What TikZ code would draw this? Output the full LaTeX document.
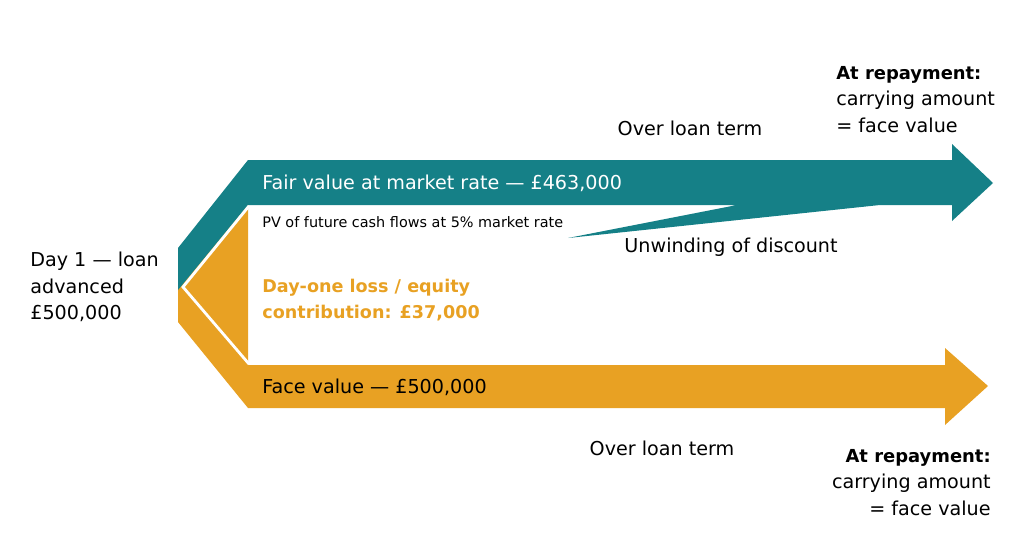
\documentclass[tikz,border=0pt]{standalone}
\usepackage{fontspec}
\setmainfont{DejaVu Sans}
\definecolor{fairteal}{RGB}{21,128,135}
\definecolor{faceorange}{RGB}{232,161,35}
\newcommand{\bhead}[1]{{\fontsize{10.2}{15}\selectfont\bfseries #1}}
\tikzset{
  lbl/.style={inner sep=0pt, font=\fontsize{10.9}{15}\selectfont},
  small lbl/.style={inner sep=0pt, font=\fontsize{8.2}{10}\selectfont},
}
\begin{document}
\begin{tikzpicture}[x=0.02cm, y=-0.02cm]
        % \draw[help lines] (0,0) grid (1024,558);
        \useasboundingbox (0,0) rectangle (1024,558);

        % bands
        \fill[faceorange] (178,288) -- (178,322) -- (248,408) -- (945,408) -- (945,425)
            -- (988,386) -- (945,348) -- (945,365) -- (248,365) -- (248,205) -- cycle;
        \fill[fairteal] (178,290) -- (178,248) -- (248,160) -- (952,160) -- (952,144)
            -- (993,183) -- (952,221) -- (952,205) -- (880,205) -- (568,238)
            -- (737,205) -- (248,205) -- cycle;
        \draw[white, line width=1.6pt] (249,206) -- (183,287) -- (249,364);

        % left
        \node[lbl, anchor=west, align=left] (day) at (30,287) {Day 1 — loan\\advanced\\£500,000};

        % upper band
        \node[lbl, anchor=west, text=white] (fair) at (262,183) {Fair value at market rate — £463,000};
        \node[small lbl, anchor=west] (pv) at (262,222) {PV of future cash flows at 5\% market rate};
        \node[lbl] (unwind) at (731,247) {Unwinding of discount};
        \node[lbl] (termA) at (690,128) {Over loan term};
        \node[lbl, anchor=north west, align=left] (repayA) at (836,66)
            {\bhead{At repayment:}\\carrying amount\\= face value};

        % day-one loss
        \node[lbl, anchor=west, align=left, text=faceorange, font=\fontsize{10}{15}\selectfont\bfseries]
            (loss) at (262,300) {Day-one loss / equity\\contribution: £37,000};

        % lower band
        \node[lbl, anchor=west] (face) at (262,387) {Face value — £500,000};
        \node[lbl] (termB) at (662,448) {Over loan term};
        \node[lbl, anchor=north east, align=right] (repayB) at (991,449)
            {\bhead{At repayment:}\\carrying amount\\= face value};

    \end{tikzpicture}
\end{document}
